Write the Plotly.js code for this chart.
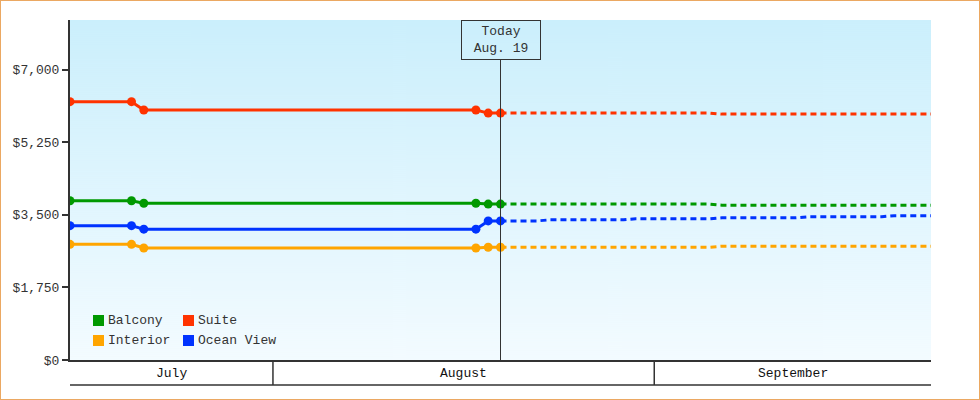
<!DOCTYPE html>
<html>
<head>
<meta charset="utf-8">
<script src="https://cdn.plot.ly/plotly-3.0.1.min.js"></script>
<style>
  html, body { margin: 0; padding: 0; background: #fff; }
  #chart { width: 980px; height: 400px; outline: 1px solid #eba862; outline-offset: -1px; }
</style>
</head>
<body>
<div id="chart"></div>
<script>
    'use strict';

    // Prices actually observed up to today
    const actualDates = ['2014-07-15 12:00', '2014-07-20 12:00', '2014-07-21 12:00',
        '2014-08-17 12:00', '2014-08-18 12:00', '2014-08-19 12:00'];
    const balconyActual = [3840, 3840, 3780, 3780, 3760, 3760];
    const suiteActual = [6230, 6230, 6030, 6030, 5955, 5955];
    const interiorActual = [2790, 2790, 2700, 2700, 2720, 2720];
    const oceanActual = [3240, 3240, 3155, 3155, 3355, 3355];

    // Forecast from today on
    const forecastDates = ['2014-08-19 12:00', '2014-08-22 12:00', '2014-08-23 12:00',
        '2014-08-29 12:00', '2014-08-30 12:00', '2014-09-05 12:00', '2014-09-06 12:00',
        '2014-09-12 12:00', '2014-09-13 12:00', '2014-09-19 12:00', '2014-09-20 12:00',
        '2014-09-23 12:00'];
    const balconyForecast = [3760, 3760, 3760, 3760, 3760, 3760, 3735, 3735, 3735, 3735, 3735, 3735];
    const suiteForecast = [5955, 5955, 5955, 5955, 5955, 5955, 5930, 5930, 5930, 5930, 5930, 5930];
    const interiorForecast = [2720, 2720, 2720, 2720, 2720, 2720, 2745, 2745, 2745, 2745, 2745, 2745];
    const oceanForecast = [3355, 3355, 3380, 3380, 3405, 3405, 3430, 3430, 3455, 3455, 3480, 3480];

    const yTicks = [0, 1750, 3500, 5250, 7000];
    const monthStarts = ['2014-07-01', '2014-08-01', '2014-09-01', '2014-10-01'];
    const monthNames = ['July', 'August', 'September'];
    const todayDate = '2014-08-19 12:00';
    const todayLabel = 'Today<br>Aug. 19';

    const xRange = ['2014-07-15 12:00', '2014-09-23 12:00'];
    const yRange = [0, 8200];

    const FONT = 'Liberation Mono, DejaVu Sans Mono, monospace';
    const INK = '#333333';
    const PLOT_W = 861, PLOT_H = 340;

    // legend order: row by row, two columns
    const series = [
        {name: 'Balcony', color: '#009900', actual: balconyActual, forecast: balconyForecast},
        {name: 'Suite', color: '#ff3300', actual: suiteActual, forecast: suiteForecast},
        {name: 'Interior', color: '#ffa500', actual: interiorActual, forecast: interiorForecast},
        {name: 'Ocean View', color: '#0033ff', actual: oceanActual, forecast: oceanForecast}
    ];

    function toMs(s) {
        return new Date(s.replace(' ', 'T') + 'Z').getTime();
    }
    function msToStr(ms) {
        return new Date(ms).toISOString().replace('T', ' ').slice(0, 19);
    }
    // pixel offsets inside the plot area -> paper coords
    function px(x) { return x / PLOT_W; }
    function py(y) { return 1 - y / PLOT_H; }

    // plot background gradient
    function gradientImage() {
        const c = document.createElement('canvas');
        c.width = 4;
        c.height = PLOT_H;
        const ctx = c.getContext('2d');
        const g = ctx.createLinearGradient(0, 0, 0, PLOT_H);
        g.addColorStop(0, '#cbeffc');
        g.addColorStop(1, '#f3fbff');
        ctx.fillStyle = g;
        ctx.fillRect(0, 0, 4, PLOT_H);
        return c.toDataURL();
    }

    let data = [];
    series.forEach((s) => {
        data.push({
            type: 'scatter', mode: 'lines', x: forecastDates, y: s.forecast,
            line: {color: s.color, width: 3, dash: '6px,4px'},
            showlegend: false, hoverinfo: 'skip'
        });
    });
    series.forEach((s) => {
        data.push({
            type: 'scatter', mode: 'lines+markers', x: actualDates, y: s.actual,
            line: {color: s.color, width: 3},
            marker: {color: s.color, size: 9, symbol: 'circle'},
            name: s.name, showlegend: false
        });
    });

    let shapes = [];
    let annotations = [];

    // month band below the axis
    const bandDepth = 25 / PLOT_H;
    const x0 = toMs(xRange[0]), x1 = toMs(xRange[1]);
    monthNames.forEach((m, i) => {
        const a = Math.max(toMs(monthStarts[i] + ' 00:00'), x0);
        const b = Math.min(toMs(monthStarts[i + 1] + ' 00:00'), x1);
        if (i > 0) {
            shapes.push({type: 'line', xref: 'x', yref: 'paper', x0: monthStarts[i], x1: monthStarts[i],
                y0: 0, y1: -bandDepth, line: {color: INK, width: 1.5}});
        }
        annotations.push({xref: 'x', yref: 'paper', x: msToStr((a + b) / 2), y: -bandDepth / 2 - 0.003,
            text: m, showarrow: false, yanchor: 'middle', font: {family: FONT, size: 13, color: '#111'}});
    });
    shapes.push({type: 'line', xref: 'paper', yref: 'paper', x0: 0, x1: 1, y0: -bandDepth, y1: -bandDepth,
        line: {color: INK, width: 1.5}});

    // today marker
    shapes.push({type: 'line', xref: 'x', yref: 'paper', x0: todayDate, x1: todayDate,
        y0: 0, y1: 1 - 40 / PLOT_H, line: {color: INK, width: 1}});
    annotations.push({xref: 'x', yref: 'paper', x: todayDate, y: 1, yanchor: 'top', xanchor: 'center',
        text: todayLabel, showarrow: false, width: 74, height: 34, borderpad: 2,
        bordercolor: INK, borderwidth: 1, font: {family: FONT, size: 13, color: INK}});

    // legend: square swatch + name, two per row
    series.forEach((s, i) => {
        const col = i % 2, row = Math.floor(i / 2);
        const left = 23 + col * 90, top = 295 + row * 20;
        shapes.push({type: 'rect', xref: 'paper', yref: 'paper',
            x0: px(left), x1: px(left + 11), y0: py(top), y1: py(top + 11),
            fillcolor: s.color, line: {width: 0}});
        annotations.push({xref: 'paper', yref: 'paper', x: px(left + 13), y: py(top + 5.5),
            xanchor: 'left', yanchor: 'middle', text: s.name, showarrow: false,
            font: {family: FONT, size: 13, color: INK}});
    });

    const layout = {
        width: 980, height: 400,
        margin: {l: 70, r: 49, t: 20, b: 40},
        paper_bgcolor: 'rgba(0,0,0,0)',
        plot_bgcolor: 'rgba(0,0,0,0)',
        font: {family: FONT, size: 13, color: INK},
        images: [{source: gradientImage(), xref: 'paper', yref: 'paper', x: 0, y: 1,
            sizex: 1, sizey: 1, sizing: 'stretch', xanchor: 'left', yanchor: 'top', layer: 'below'}],
        xaxis: {
            type: 'date', range: xRange, showticklabels: false, ticks: '',
            showgrid: false, zeroline: false, showline: true, linecolor: INK, linewidth: 1.5
        },
        yaxis: {
            range: yRange, tickmode: 'array', tickvals: yTicks,
            ticktext: yTicks.map(v => '$' + v.toLocaleString('en-US')),
            showgrid: false, zeroline: false, showline: true, linecolor: INK, linewidth: 2,
            ticks: 'outside', ticklen: 6, tickwidth: 2, tickcolor: INK,
            tickfont: {family: FONT, size: 13, color: INK}
        },
        shapes: shapes,
        annotations: annotations,
        showlegend: false,
        hovermode: false
    };

    Plotly.newPlot('chart', data, layout, {displayModeBar: false, staticPlot: true});
</script>
</body>
</html>
